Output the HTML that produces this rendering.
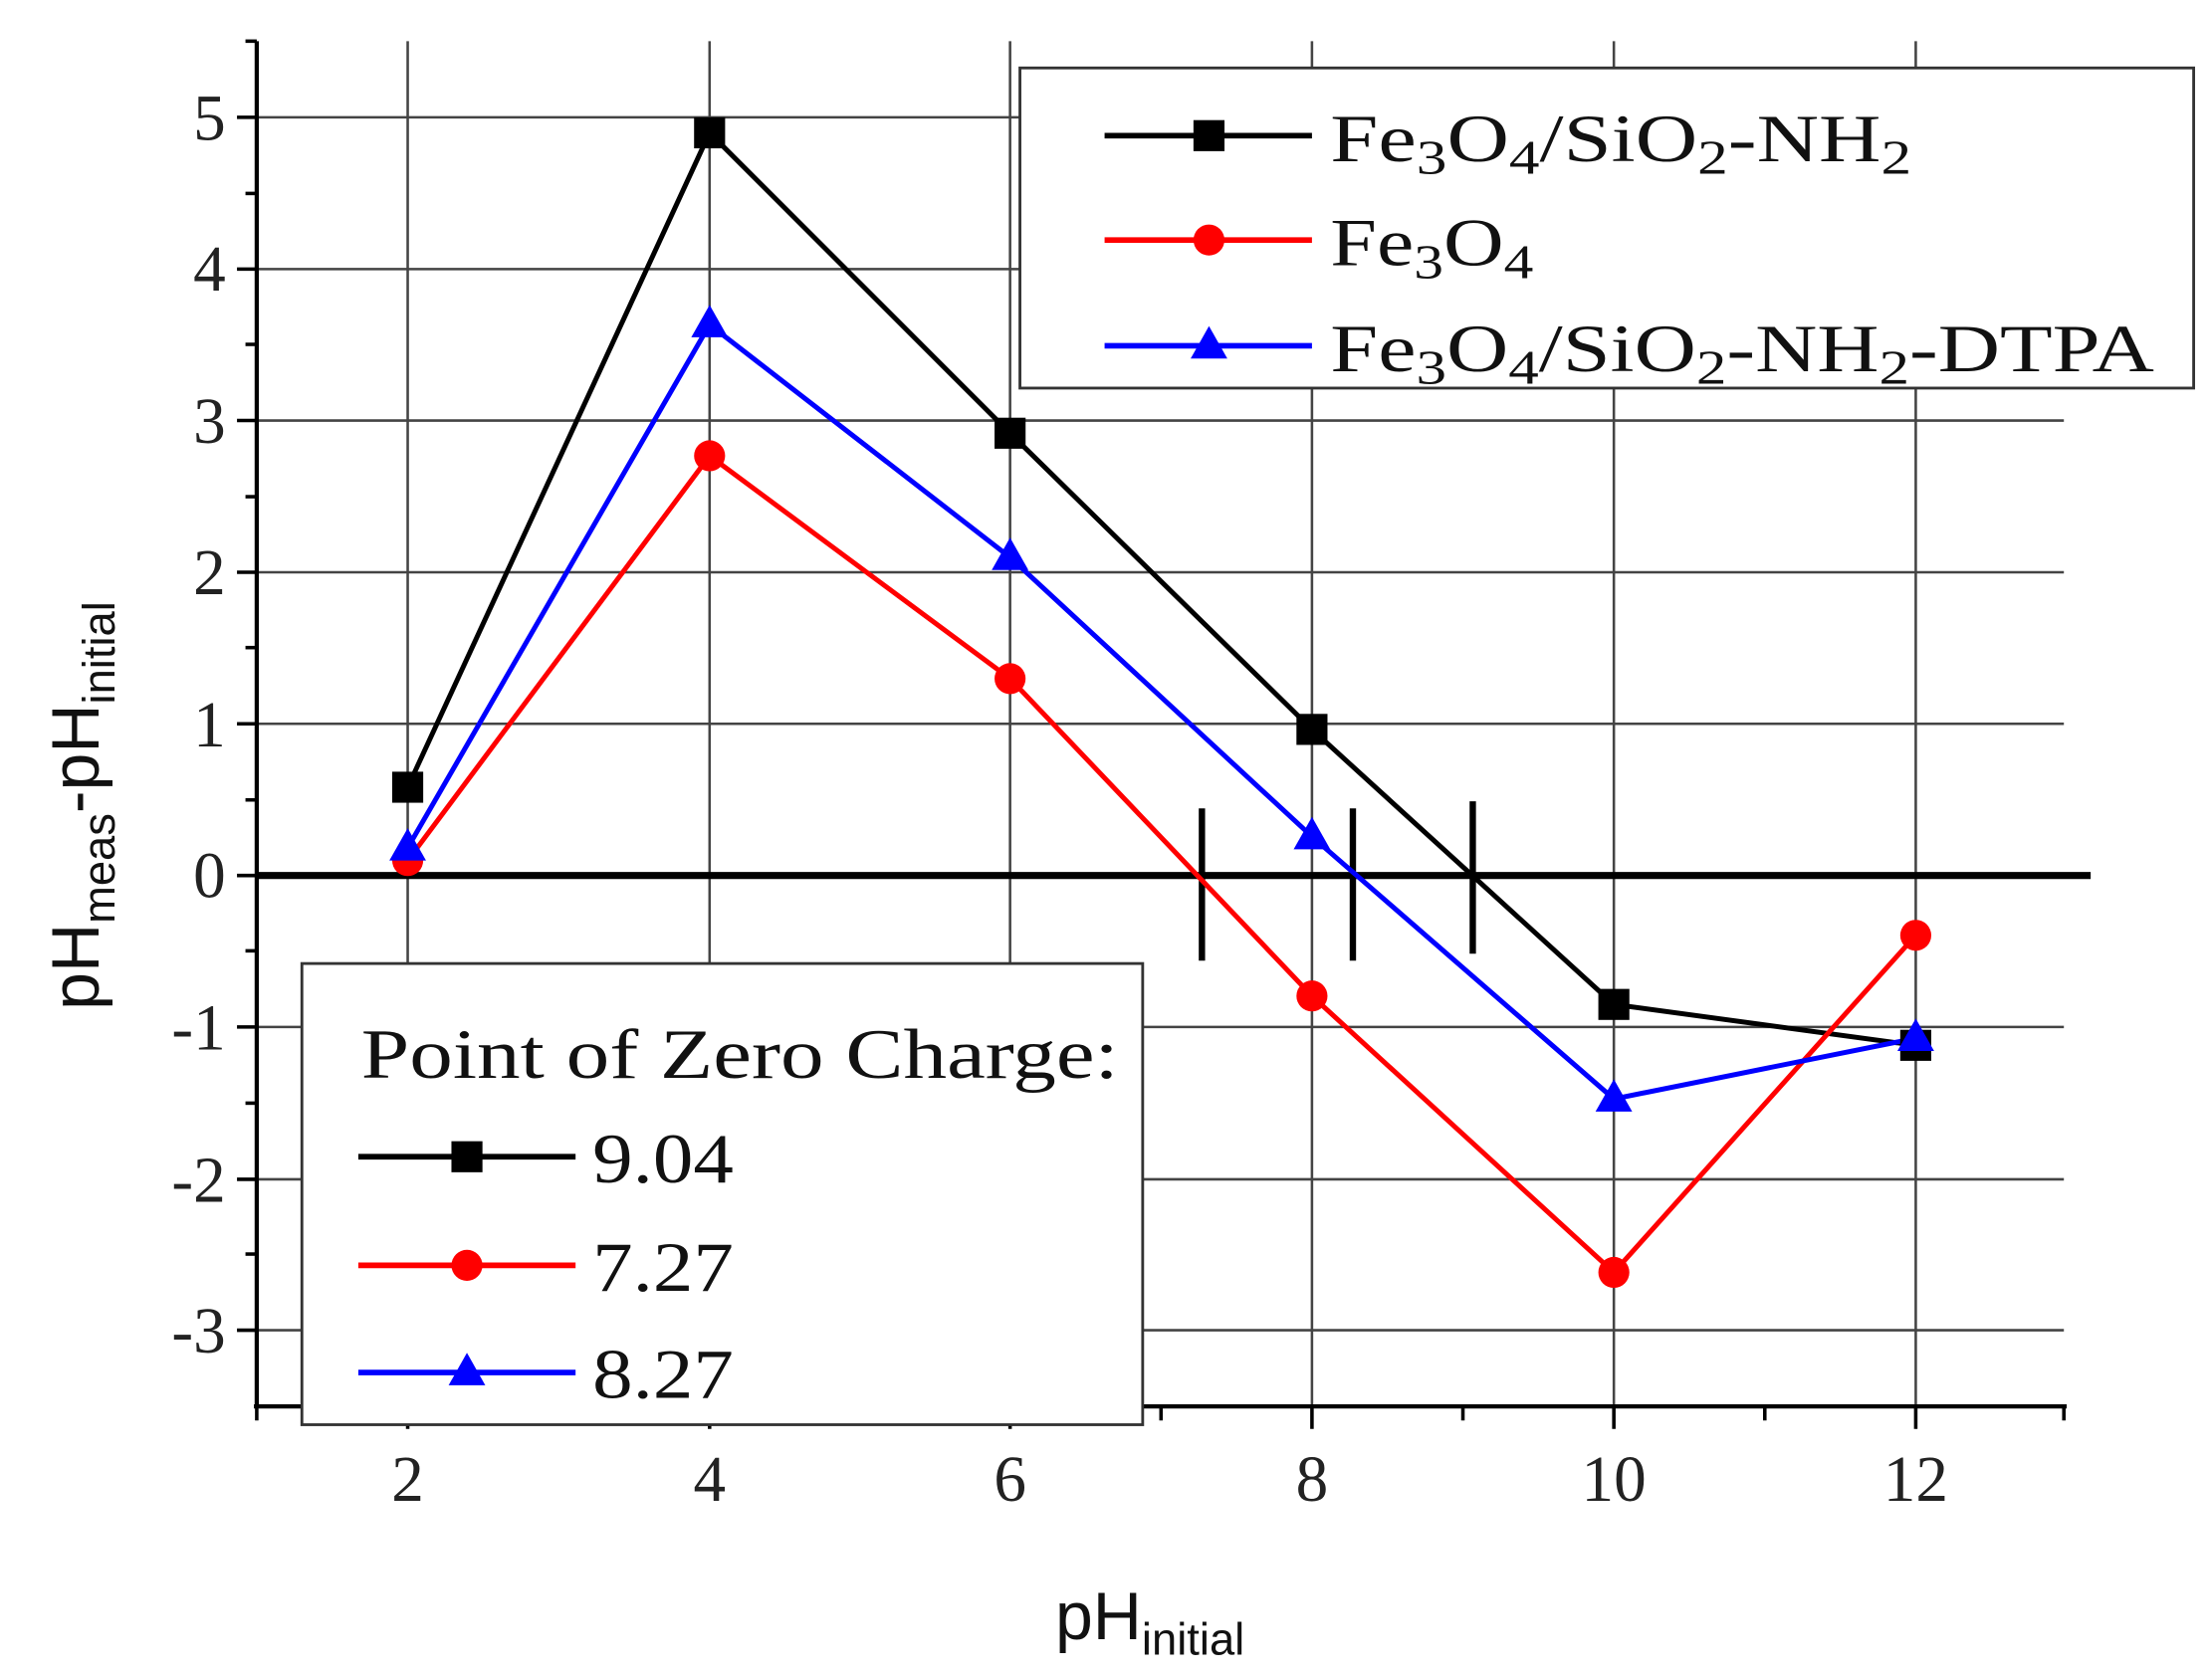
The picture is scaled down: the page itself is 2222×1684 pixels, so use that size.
<!DOCTYPE html>
<html><head><meta charset="utf-8"><style>html,body{margin:0;padding:0;background:#fff}svg{display:block}</style></head>
<body>
<svg width="2222" height="1684" viewBox="0 0 1568 1188" xmlns="http://www.w3.org/2000/svg">
<rect width="1568" height="1188" fill="#fff"/>
<g stroke="#444" stroke-width="1.8">
<line x1="289" y1="29" x2="289" y2="997"/><line x1="503" y1="29" x2="503" y2="997"/><line x1="716" y1="29" x2="716" y2="997"/><line x1="930" y1="29" x2="930" y2="997"/><line x1="1144" y1="29" x2="1144" y2="997"/><line x1="1358" y1="29" x2="1358" y2="997"/>
<line x1="182" y1="83" x2="1463" y2="83"/><line x1="182" y1="190.6" x2="1463" y2="190.6"/><line x1="182" y1="298" x2="1463" y2="298"/><line x1="182" y1="405.6" x2="1463" y2="405.6"/><line x1="182" y1="513" x2="1463" y2="513"/><line x1="182" y1="728" x2="1463" y2="728"/><line x1="182" y1="836" x2="1463" y2="836"/><line x1="182" y1="943" x2="1463" y2="943"/>
</g>
<g stroke="#000" stroke-width="3">
<line x1="182" y1="29" x2="182" y2="998"/><line x1="180" y1="997" x2="1465" y2="997"/>
<g stroke-width="2.5">
<line x1="168" y1="83" x2="182" y2="83"/><line x1="168" y1="190.6" x2="182" y2="190.6"/><line x1="168" y1="298" x2="182" y2="298"/><line x1="168" y1="405.6" x2="182" y2="405.6"/><line x1="168" y1="513" x2="182" y2="513"/><line x1="168" y1="620.6" x2="182" y2="620.6"/><line x1="168" y1="728" x2="182" y2="728"/><line x1="168" y1="836" x2="182" y2="836"/><line x1="168" y1="943" x2="182" y2="943"/>
<line x1="174" y1="29" x2="182" y2="29"/><line x1="174" y1="137" x2="182" y2="137"/><line x1="174" y1="244" x2="182" y2="244"/><line x1="174" y1="352" x2="182" y2="352"/><line x1="174" y1="459" x2="182" y2="459"/><line x1="174" y1="567" x2="182" y2="567"/><line x1="174" y1="674" x2="182" y2="674"/><line x1="174" y1="782" x2="182" y2="782"/><line x1="174" y1="889" x2="182" y2="889"/>
<line x1="289" y1="997" x2="289" y2="1013"/><line x1="503" y1="997" x2="503" y2="1013"/><line x1="716" y1="997" x2="716" y2="1013"/><line x1="930" y1="997" x2="930" y2="1013"/><line x1="1144" y1="997" x2="1144" y2="1013"/><line x1="1358" y1="997" x2="1358" y2="1013"/>
<line x1="182" y1="997" x2="182" y2="1007"/><line x1="396" y1="997" x2="396" y2="1007"/><line x1="609" y1="997" x2="609" y2="1007"/><line x1="823" y1="997" x2="823" y2="1007"/><line x1="1037" y1="997" x2="1037" y2="1007"/><line x1="1251" y1="997" x2="1251" y2="1007"/><line x1="1463" y1="997" x2="1463" y2="1007"/>
</g>
</g>
<line x1="182" y1="620.6" x2="1482" y2="620.6" stroke="#000" stroke-width="5"/>
<g stroke="#000" stroke-width="4.5">
<line x1="852" y1="573" x2="852" y2="681"/><line x1="959" y1="573" x2="959" y2="681"/><line x1="1044" y1="568" x2="1044" y2="676"/>
</g>
<g font-family="Liberation Serif, serif" font-size="46" fill="#222" text-anchor="end">
<text x="160" y="99">5</text><text x="160" y="206">4</text><text x="160" y="314">3</text><text x="160" y="421">2</text><text x="160" y="529">1</text><text x="160" y="636">0</text><text x="160" y="744">-1</text><text x="160" y="852">-2</text><text x="160" y="959">-3</text>
</g>
<g font-family="Liberation Serif, serif" font-size="46" fill="#222" text-anchor="middle">
<text x="289" y="1064">2</text><text x="503" y="1064">4</text><text x="716" y="1064">6</text><text x="930" y="1064">8</text><text x="1144" y="1064">10</text><text x="1358" y="1064">12</text>
</g>
<text x="748" y="1162" font-family="Liberation Sans, sans-serif" font-size="48" fill="#111">pH<tspan font-size="32" dy="11">initial</tspan></text>
<text transform="translate(70,716) rotate(-90)" font-family="Liberation Sans, sans-serif" font-size="48" fill="#111">pH<tspan font-size="32" dy="11">meas</tspan><tspan dy="-11">-pH</tspan><tspan font-size="32" dy="11">initial</tspan></text>
<g fill="none" stroke-width="3.5" stroke-linejoin="miter">
<polyline stroke="#000" points="289,558 503,94 716,307 930,517 1144,712 1358,741"/>
<polyline stroke="#f00" points="289,610 503,323 716,481 930,706 1144,902 1358,663"/>
<polyline stroke="#00f" points="289,601 503,230 716,395 930,593 1144,779 1358,736"/>
</g>
<g fill="#000"><rect x="278" y="547" width="22" height="22"/><rect x="492" y="83" width="22" height="22"/><rect x="705" y="296" width="22" height="22"/><rect x="919" y="506" width="22" height="22"/><rect x="1133" y="701" width="22" height="22"/><rect x="1347" y="730" width="22" height="22"/></g>
<g fill="#f00"><circle cx="289" cy="610" r="11"/><circle cx="503" cy="323" r="11"/><circle cx="716" cy="481" r="11"/><circle cx="930" cy="706" r="11"/><circle cx="1144" cy="902" r="11"/><circle cx="1358" cy="663" r="11"/></g>
<g fill="#00f">
<polygon points="289,587 276,610 302,610"/><polygon points="503,216 490,239 516,239"/><polygon points="716,381 703,404 729,404"/><polygon points="930,579 917,602 943,602"/><polygon points="1144,765 1131,788 1157,788"/><polygon points="1358,722 1345,745 1371,745"/>
</g>
<rect x="723" y="48" width="832" height="227" fill="#fff" stroke="#333" stroke-width="2"/>
<g stroke-width="4"><line x1="783" y1="96" x2="930" y2="96" stroke="#000"/><line x1="783" y1="170" x2="930" y2="170" stroke="#f00"/><line x1="783" y1="245" x2="930" y2="245" stroke="#00f"/></g>
<rect x="846" y="85" width="22" height="22" fill="#000"/><circle cx="857" cy="170" r="11" fill="#f00"/><polygon points="857,231 844,254 870,254" fill="#00f"/>
<g font-family="Liberation Serif, serif" font-size="48" fill="#111">
<text x="943" y="114" textLength="412" lengthAdjust="spacingAndGlyphs">Fe<tspan font-size="34" dy="9">3</tspan><tspan dy="-9">O</tspan><tspan font-size="34" dy="9">4</tspan><tspan dy="-9">/SiO</tspan><tspan font-size="34" dy="9">2</tspan><tspan dy="-9">-NH</tspan><tspan font-size="34" dy="9">2</tspan></text>
<text x="943" y="188" textLength="144" lengthAdjust="spacingAndGlyphs">Fe<tspan font-size="34" dy="9">3</tspan><tspan dy="-9">O</tspan><tspan font-size="34" dy="9">4</tspan></text>
<text x="943" y="263" textLength="584" lengthAdjust="spacingAndGlyphs">Fe<tspan font-size="34" dy="9">3</tspan><tspan dy="-9">O</tspan><tspan font-size="34" dy="9">4</tspan><tspan dy="-9">/SiO</tspan><tspan font-size="34" dy="9">2</tspan><tspan dy="-9">-NH</tspan><tspan font-size="34" dy="9">2</tspan><tspan dy="-9">-DTPA</tspan></text>
</g>
<rect x="214" y="683" width="596" height="327" fill="#fff" stroke="#333" stroke-width="2"/>
<g stroke-width="4"><line x1="254" y1="820" x2="408" y2="820" stroke="#000"/><line x1="254" y1="897" x2="408" y2="897" stroke="#f00"/><line x1="254" y1="973" x2="408" y2="973" stroke="#00f"/></g>
<rect x="320" y="809" width="22" height="22" fill="#000"/><circle cx="331" cy="897" r="11" fill="#f00"/><polygon points="331,959 318,982 344,982" fill="#00f"/>
<g font-family="Liberation Serif, serif" font-size="50" fill="#111">
<text x="256" y="764" textLength="537" lengthAdjust="spacingAndGlyphs">Point of Zero Charge:</text>
<text x="420" y="838" textLength="100" lengthAdjust="spacingAndGlyphs">9.04</text><text x="420" y="915" textLength="100" lengthAdjust="spacingAndGlyphs">7.27</text><text x="420" y="991" textLength="100" lengthAdjust="spacingAndGlyphs">8.27</text>
</g>
</svg>
</body></html>
